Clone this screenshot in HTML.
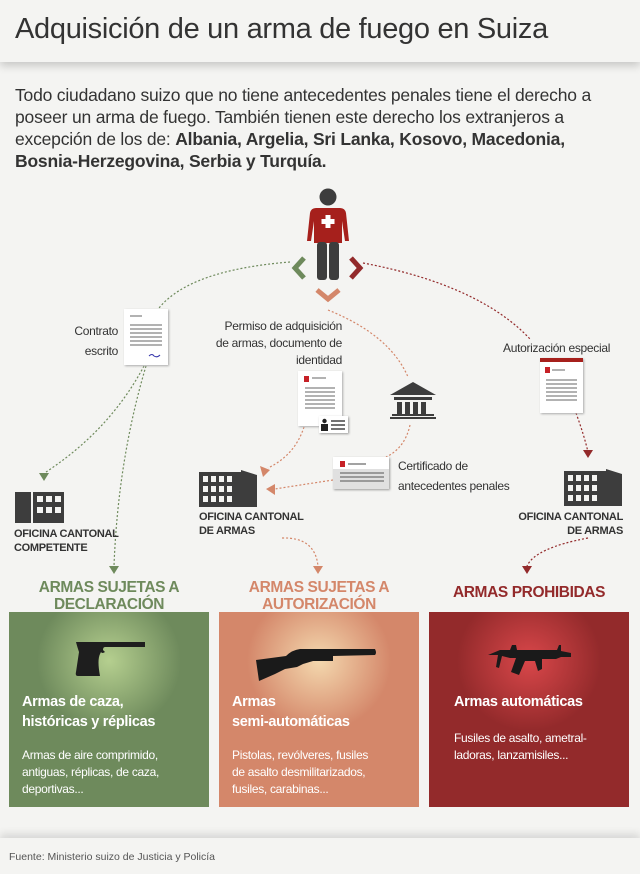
<!DOCTYPE html>
<html><head><meta charset="utf-8"><style>
body{margin:0;width:640px;height:874px;background:#f4f4f2;font-family:"Liberation Sans",sans-serif;overflow:hidden;position:relative;color:#333}
.hdr{position:absolute;left:0;top:0;width:640px;height:62px;background:#f4f4f2;box-shadow:0 4px 8px rgba(0,0,0,.18)}
.hdr h1{margin:0;position:absolute;left:15px;top:13px;font-weight:normal;font-size:29px;color:#333;letter-spacing:-0.3px;white-space:nowrap}
.intro{position:absolute;left:15px;top:84px;width:630px;font-size:17.5px;line-height:22px;color:#333;letter-spacing:-0.2px;white-space:nowrap}
.t{position:absolute;font-size:12px;color:#333;letter-spacing:-0.3px;white-space:nowrap}
.cap{position:absolute;font-size:11px;font-weight:bold;color:#333;line-height:14px;letter-spacing:-0.3px;white-space:nowrap}
.h{position:absolute;font-weight:bold;font-size:15.5px;line-height:17px;text-align:center;width:200px;letter-spacing:-0.4px}
.card{position:absolute;top:612px;width:200px;height:195px;color:#fff}
.card b{position:absolute;left:13px;top:80px;font-size:14.5px;line-height:20px;letter-spacing:-0.3px;white-space:nowrap}
.card p{position:absolute;left:13px;margin:0;font-size:12px;line-height:17px;letter-spacing:-0.3px;white-space:nowrap}
.foot{position:absolute;left:0;top:838px;width:640px;height:36px;background:#f4f4f2;box-shadow:0 -4px 8px rgba(0,0,0,.12)}
.foot span{position:absolute;left:9px;top:13px;font-size:10.5px;color:#555}
</style></head><body>
<div class="hdr"><h1>Adquisición de un arma de fuego en Suiza</h1></div>
<div class="intro">Todo ciudadano suizo que no tiene antecedentes penales tiene el derecho a<br>poseer un arma de fuego. También tienen este derecho los extranjeros a<br>excepción de los de: <b>Albania, Argelia, Sri Lanka, Kosovo, Macedonia,</b><br><b>Bosnia-Herzegovina, Serbia y Turquía.</b></div>

<svg style="position:absolute;left:0;top:0" width="640" height="874">
<defs>
<radialGradient id="g1" cx="50%" cy="25%" r="60%"><stop offset="0" stop-color="#b5cf8f"/><stop offset="0.6" stop-color="#6e8a5c"/></radialGradient>
<radialGradient id="g2" cx="50%" cy="25%" r="60%"><stop offset="0" stop-color="#f4d8ae"/><stop offset="0.6" stop-color="#d4876a"/></radialGradient>
<radialGradient id="g3" cx="50%" cy="25%" r="60%"><stop offset="0" stop-color="#d9474a"/><stop offset="0.6" stop-color="#932a2b"/></radialGradient>
</defs>
<g fill="none" stroke-width="1.2" stroke-dasharray="2,2">
<path d="M290 262 Q190 270 159 308" stroke="#6e8a5c"/>
<path d="M144 366 Q110 430 46 472" stroke="#6e8a5c"/>
<path d="M146 366 Q118 460 114 566" stroke="#6e8a5c"/>
<path d="M363 263 Q480 285 531 340" stroke="#932a2b"/>
<path d="M576 413 Q584 435 588 452" stroke="#932a2b"/>
<path d="M588 538 Q535 548 527 566" stroke="#932a2b"/>
<path d="M328 310 Q390 335 408 377" stroke="#d4876a"/>
<path d="M304 427 Q295 455 268 468" stroke="#d4876a"/>
<path d="M410 425 Q405 448 386 457" stroke="#d4876a"/>
<path d="M333 480 Q300 485 275 489" stroke="#d4876a"/>
<path d="M282 538 Q315 537 318 566" stroke="#d4876a"/>
</g>
<g>
<polygon points="39,473 49,473 44,481" fill="#6e8a5c"/>
<polygon points="109,566 119,566 114,574" fill="#6e8a5c"/>
<polygon points="583,450 593,450 588,458" fill="#932a2b"/>
<polygon points="522,566 532,566 527,574" fill="#932a2b"/>
<polygon points="260,466 270,470 263,477" fill="#d4876a"/>
<polygon points="266,489 275,484 275,495" fill="#d4876a"/>
<polygon points="313,566 323,566 318,574" fill="#d4876a"/>
</g>
<circle cx="328" cy="197" r="8.5" fill="#3d3d3d"/>
<path d="M316 208 h24 q5 0 6 5 l3 28 h-4 l-3-20 v22 h-28 v-22 l-3 20 h-4 l3-28 q1-5 6-5z" fill="#a6201c"/>
<rect x="317" y="242" width="10" height="38" rx="3" fill="#3d3d3d"/>
<rect x="329" y="242" width="10" height="38" rx="3" fill="#3d3d3d"/>
<path d="M325.5 215h5v4h4v5h-4v4h-5v-4h-4v-5h4z" fill="#fff"/>
<path d="M304 258 l-9 10 9 10" stroke="#6e8a5c" stroke-width="5" fill="none"/>
<path d="M351 258 l9 10 -9 10" stroke="#932a2b" stroke-width="5" fill="none"/>
<path d="M317 290 l11 9 11-9" stroke="#d4876a" stroke-width="5" fill="none"/>
<rect x="124" y="309" width="44" height="56" fill="#fff" style="filter:drop-shadow(1px 1px 1px #aaa)"/>
<g stroke="#666" stroke-width="1"><line x1="130" y1="316" x2="142" y2="316"/><line x1="130" y1="325" x2="162" y2="325"/><line x1="130" y1="329" x2="162" y2="329"/><line x1="130" y1="333" x2="162" y2="333"/><line x1="130" y1="337" x2="162" y2="337"/><line x1="130" y1="341" x2="162" y2="341"/><line x1="130" y1="345" x2="162" y2="345"/></g>
<path d="M149 356 q3-3 5 0 q3 2 6-1" stroke="#33a" fill="none"/>
<rect x="298" y="371" width="44" height="55" fill="#fff" style="filter:drop-shadow(1px 1px 1px #aaa)"/>
<rect x="304" y="376" width="5" height="6" fill="#c62127"/>
<g stroke="#666"><line x1="312" y1="378" x2="326" y2="378"/><line x1="305" y1="388" x2="335" y2="388"/><line x1="305" y1="392" x2="335" y2="392"/><line x1="305" y1="396" x2="335" y2="396"/><line x1="305" y1="400" x2="335" y2="400"/><line x1="305" y1="404" x2="335" y2="404"/><line x1="305" y1="408" x2="335" y2="408"/></g>
<rect x="319" y="416" width="29" height="17" fill="#fff" style="filter:drop-shadow(1px 1px 1px #999)"/>
<circle cx="324.5" cy="421" r="2.2" fill="#222"/><rect x="321" y="424" width="7" height="7" fill="#222"/>
<g stroke="#444" stroke-width="1.5"><line x1="331" y1="421" x2="345" y2="421"/><line x1="331" y1="425" x2="345" y2="425"/><line x1="331" y1="429" x2="345" y2="429"/></g>
<polygon points="413,382 390,395 436,395" fill="#3d3d3d"/>
<rect x="394" y="397" width="38" height="3" fill="#3d3d3d"/>
<g fill="#3d3d3d"><rect x="397" y="402" width="5" height="13"/><rect x="405" y="402" width="5" height="13"/><rect x="413" y="402" width="5" height="13"/><rect x="421" y="402" width="5" height="13"/></g>
<rect x="392" y="414" width="42" height="2" fill="#3d3d3d"/><rect x="390" y="417" width="46" height="2" fill="#3d3d3d"/>
<rect x="333" y="457" width="56" height="32" fill="#e0e0e0" style="filter:drop-shadow(1px 1px 1px #999)"/>
<rect x="333" y="457" width="56" height="12" fill="#fff"/>
<rect x="340" y="461" width="5" height="6" fill="#c62127"/><line x1="348" y1="464" x2="366" y2="464" stroke="#444"/>
<g stroke="#555"><line x1="340" y1="473" x2="384" y2="473"/><line x1="340" y1="477" x2="384" y2="477"/><line x1="340" y1="481" x2="384" y2="481"/></g>
<rect x="540" y="358" width="43" height="55" fill="#fff" style="filter:drop-shadow(1px 1px 1px #aaa)"/>
<rect x="540" y="358" width="43" height="4" fill="#a6201c"/>
<rect x="545" y="367" width="5" height="6" fill="#c62127"/>
<g stroke="#666"><line x1="552" y1="370" x2="565" y2="370"/><line x1="546" y1="380" x2="577" y2="380"/><line x1="546" y1="384" x2="577" y2="384"/><line x1="546" y1="388" x2="577" y2="388"/><line x1="546" y1="392" x2="577" y2="392"/><line x1="546" y1="396" x2="577" y2="396"/><line x1="546" y1="400" x2="577" y2="400"/></g>
<g fill="#3d3d3d">
<rect x="15" y="492" width="49" height="31"/>
<rect x="199" y="472" width="42" height="35"/><polygon points="241,470 257,475 257,507 241,507"/>
<rect x="564" y="471" width="42" height="35"/><polygon points="606,469 622,474 622,506 606,506"/>
</g>
<g fill="#f4f4f2">
<rect x="37" y="496" width="6" height="6"/><rect x="46" y="496" width="6" height="6"/><rect x="55" y="496" width="6" height="6"/>
<rect x="37" y="507" width="6" height="6"/><rect x="46" y="507" width="6" height="6"/><rect x="55" y="507" width="6" height="6"/>
<rect x="31" y="492" width="2" height="31"/>
</g>
<g fill="#f4f4f2" id="w">
<rect x="203" y="476" width="5" height="6"/><rect x="211" y="476" width="5" height="6"/><rect x="219" y="476" width="5" height="6"/><rect x="227" y="476" width="5" height="6"/>
<rect x="203" y="486" width="5" height="6"/><rect x="211" y="486" width="5" height="6"/><rect x="219" y="486" width="5" height="6"/><rect x="227" y="486" width="5" height="6"/>
<rect x="203" y="496" width="5" height="6"/><rect x="211" y="496" width="5" height="6"/><rect x="219" y="496" width="5" height="6"/><rect x="227" y="496" width="5" height="6"/>
</g>
<use href="#w" x="365" y="-1"/>
<rect x="9" y="612" width="200" height="195" fill="url(#g1)"/>
<rect x="219" y="612" width="200" height="195" fill="url(#g2)"/>
<rect x="429" y="612" width="200" height="195" fill="url(#g3)"/>
<path d="M76 642 h69 v5 h-40 q-2 0-2 3 l2 2 q-3 2-4 0 l-1 2 q-3 6 0 22 h-22 q-3 0-2-4 l3-20 q-2-6-3-10z" fill="#1e1e1e"/>
<path d="M256 660 l30-4 q6-6 14-7 l75 0 q2 4 0 6 l-42 1 v5 l-20 0 l-10 3 l-6 3 l-12 2 l-10 5 l-16 7z" fill="#1a1a1a"/>
<path d="M488 655 l12-5 h10 l2-5 h4 l1 5 h40 l2-5 h2 v6 l10 2 v4 l-10 0 l-5 2 h-14 v10 l-4 2 -3-10 h-10 l-6 14 l-8-3 l5-14 h-6 l-8 -2 l-3 12 l-3 -1 l2-12z" fill="#1a1a1a"/>
</svg>

<div class="t" style="left:56px;top:321px;text-align:right;width:62px;line-height:20px">Contrato<br>escrito</div>
<div class="t" style="left:180px;top:318px;width:162px;text-align:right;line-height:17px">Permiso de adquisición<br>de armas, documento de<br>identidad</div>
<div class="t" style="left:503px;top:341px">Autorización especial</div>
<div class="t" style="left:398px;top:456px;line-height:20px">Certificado de<br>antecedentes penales</div>
<div class="cap" style="left:14px;top:527px">OFICINA CANTONAL<br>COMPETENTE</div>
<div class="cap" style="left:199px;top:510px">OFICINA CANTONAL<br>DE ARMAS</div>
<div class="cap" style="left:500px;top:510px;width:123px;text-align:right">OFICINA CANTONAL<br>DE ARMAS</div>

<div class="h" style="left:9px;top:579px;color:#6e8a5c">ARMAS SUJETAS A<br>DECLARACIÓN</div>
<div class="h" style="left:219px;top:579px;color:#d4876a">ARMAS SUJETAS A<br>AUTORIZACIÓN</div>
<div class="h" style="left:429px;top:584px;color:#932a2b">ARMAS PROHIBIDAS</div>

<div class="card" style="left:9px"><b>Armas de caza,<br>históricas y réplicas</b><p style="top:135px">Armas de aire comprimido,<br>antiguas, réplicas, de caza,<br>deportivas...</p></div>
<div class="card" style="left:219px"><b>Armas<br>semi-automáticas</b><p style="top:135px">Pistolas, revólveres, fusiles<br>de asalto desmilitarizados,<br>fusiles, carabinas...</p></div>
<div class="card" style="left:429px"><b style="left:25px">Armas automáticas</b><p style="top:118px;left:25px">Fusiles de asalto, ametral-<br>ladoras, lanzamisiles...</p></div>

<div class="foot"><span>Fuente: Ministerio suizo de Justicia y Policía</span></div>
</body></html>
